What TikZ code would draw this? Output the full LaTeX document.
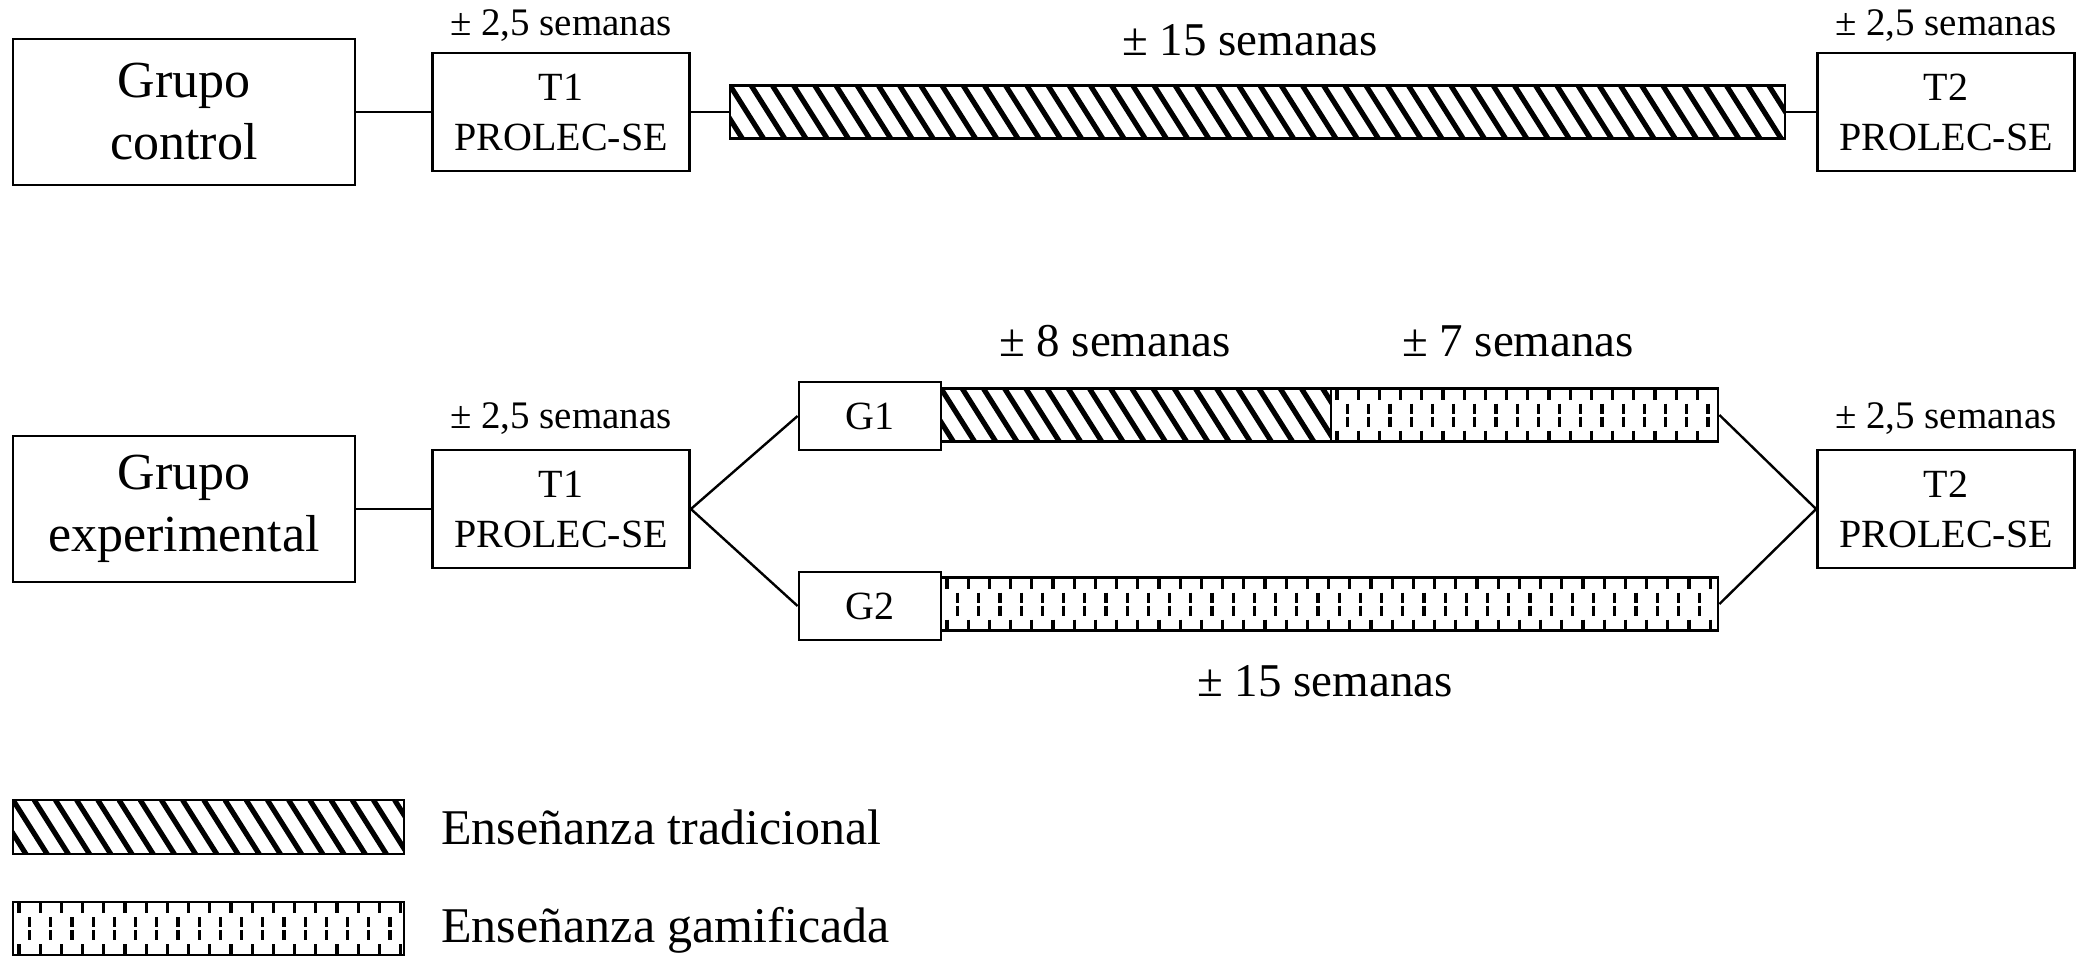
\documentclass[tikz,border=0pt]{standalone}
\usepackage{fontspec}
\setmainfont{Liberation Serif}
\begin{document}
\begin{tikzpicture}[x=0.5pt,y=-0.5pt]
\useasboundingbox (0,0) rectangle (2091,975);
\tikzset{
  frame/.style={draw, line width=1.4pt, inner sep=0pt, align=center},
  gbox/.style={frame, minimum width=171pt, minimum height=73pt, font=\fontsize{26}{31}\selectfont},
  tbox/.style={frame, minimum width=128.5pt, minimum height=59pt, font=\fontsize{20}{25}\selectfont},
  sbox/.style={frame, minimum width=71pt, minimum height=34pt, font=\fontsize{20}{24}\selectfont},
  conn/.style={line width=1.2pt},
  small/.style={inner sep=0pt, font=\fontsize{19.5}{22}\selectfont},
  mid/.style={inner sep=0pt, font=\fontsize{23.5}{26}\selectfont},
  leg/.style={inner sep=0pt, anchor=west, font=\fontsize{25}{28}\selectfont},
  hatchbar/.style={draw, line width=1.4pt, inner sep=0pt, minimum height=26.5pt,
    path picture={
      \foreach \i in {-4,...,52}{
        \draw[line width=2.6pt]
          ([xshift=\i*10.6pt]path picture bounding box.north west) -- ++(36pt,-57pt);
      }}},
  dotbar/.style={draw, line width=1.4pt, inner sep=0pt, minimum height=26.5pt,
    path picture={
      \foreach \i in {0,...,40}{
        \draw[line width=1.6pt]
          ([xshift=\i*10.6pt+3pt]path picture bounding box.north west) -- ++(0,-5.5pt);
        \draw[line width=1.6pt]
          ([xshift=\i*10.6pt+8.3pt,yshift=-7.5pt]path picture bounding box.north west) -- ++(0,-5pt);
        \draw[line width=1.6pt]
          ([xshift=\i*10.6pt+8.3pt,yshift=-14pt]path picture bounding box.north west) -- ++(0,-5pt);
        \draw[line width=1.6pt]
          ([xshift=\i*10.6pt+3pt,yshift=-21pt]path picture bounding box.north west) -- ++(0,-5.5pt);
      }}}
}
% top row
\node[gbox] (gc) at (184,112) {Grupo\\control};
\node[tbox] (t1a) at (561,112) {T1\\PROLEC-SE};
\node[tbox] (t2a) at (1946,112) {T2\\PROLEC-SE};
\node[hatchbar, minimum width=527.5pt] (bara) at (1257.5,112) {};
\node[small] (la1) at (561,26) {± 2,5 semanas};
\node[small] (la2) at (1946,26) {± 2,5 semanas};
\node[mid] (la3) at (1250,40) {± 15 semanas};
\draw[conn] (gc.east) -- (t1a.west);
\draw[conn] (t1a.east) -- (bara.west);
\draw[conn] (bara.east) -- (t2a.west);
% bottom row
\node[gbox] (ge) at (184,509) {Grupo\\experimental};
\node[tbox] (t1b) at (561,509) {T1\\PROLEC-SE};
\node[tbox] (t2b) at (1946,509) {T2\\PROLEC-SE};
\node[sbox] (g1) at (870,416) {G1};
\node[sbox] (g2) at (870,606) {G2};
\node[hatchbar, minimum width=195pt] (g1h) at (1136,415) {};
\node[dotbar, minimum width=193.5pt] (g1d) at (1524.5,415) {};
\node[dotbar, minimum width=388.5pt] (g2d) at (1329.5,604) {};
\node[small] (lb1) at (561,419) {± 2,5 semanas};
\node[small] (lb2) at (1946,419) {± 2,5 semanas};
\node[mid] (lb3) at (1115,341) {± 8 semanas};
\node[mid] (lb4) at (1518,341) {± 7 semanas};
\node[mid] (lb5) at (1325,681) {± 15 semanas};
\draw[conn] (ge.east) -- (t1b.west);
\draw[conn] (t1b.east) -- (g1.west);
\draw[conn] (t1b.east) -- (g2.west);
\draw[conn] (g1d.east) -- (t2b.west);
\draw[conn] (g2d.east) -- (t2b.west);
% legend
\node[hatchbar, minimum width=195.5pt, minimum height=27pt] (lh) at (208.5,827) {};
\node[dotbar, minimum width=195.5pt] (ld) at (208.5,928.5) {};
\node[leg] (lt1) at (441,827) {Enseñanza tradicional};
\node[leg] (lt2) at (441,930) {Enseñanza gamificada};
\end{tikzpicture}
\end{document}
